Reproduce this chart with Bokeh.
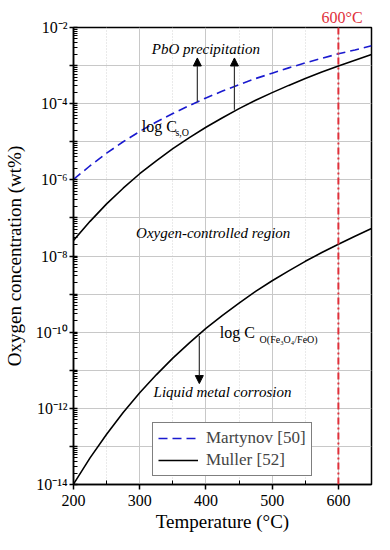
from bokeh.plotting import figure
from bokeh.models import (FixedTicker, Arrow, NormalHead, Label, Legend, LegendItem, Span, Title)
from bokeh.embed import file_html
from bokeh.resources import INLINE

# ---- data ----
temps = [200, 225, 250, 275, 300, 325, 350, 375, 400, 425, 450, 475, 500, 525, 550, 575, 600, 625, 650]
martynov_log = [-5.99, -5.63, -5.30, -5.00, -4.73, -4.48, -4.26, -4.05, -3.85, -3.67, -3.50,
                -3.34, -3.20, -3.06, -2.93, -2.81, -2.69, -2.59, -2.48]
muller_sat_log = [-7.59, -7.09, -6.63, -6.22, -5.84, -5.50, -5.18, -4.89, -4.62, -4.37, -4.13,
                  -3.91, -3.71, -3.52, -3.34, -3.17, -3.01, -2.86, -2.71]
muller_fe_log = [-13.99, -13.30, -12.68, -12.11, -11.59, -11.12, -10.68, -10.28, -9.90, -9.56, -9.24,
                 -8.93, -8.65, -8.39, -8.14, -7.91, -7.69, -7.48, -7.28]

x_ticks = [200, 300, 400, 500, 600]
x_minor = [250, 350, 450, 550, 650]
y_exps = [-14, -13, -12, -11, -10, -9, -8, -7, -6, -5, -4, -3, -2]
y_labels = {-14: "10⁻¹⁴", -12: "10⁻¹²", -10: "10⁻¹⁰", -8: "10⁻⁸", -6: "10⁻⁶", -4: "10⁻⁴", -2: "10⁻²"}

arrow_x = [387, 443, 390]
arrow_start = [-3.95, -4.16, -10.1]
arrow_end = [-2.8, -2.8, -11.35]

FONT = "Liberation Serif"

martynov = [10 ** v for v in martynov_log]
muller_sat = [10 ** v for v in muller_sat_log]
muller_fe = [10 ** v for v in muller_fe_log]

p = figure(width=374, height=534, x_range=(200, 650), y_range=(1e-14, 1e-2),
           y_axis_type="log", output_backend="svg", toolbar_location=None,
           min_border_left=71, min_border_right=3, min_border_top=27, min_border_bottom=50)

p.background_fill_color = "white"
p.border_fill_color = "white"
p.outline_line_color = "black"
p.outline_line_width = 1.5
p.outline_line_alpha = 1.0

# "600°C" marker label above the frame
p.add_layout(Title(text="600°C", text_color="#e0303a", text_font=FONT,
                   text_font_size="16px", text_font_style="normal", align="left",
                   offset=248, standoff=4), "above")

# grids
p.xgrid.ticker = FixedTicker(ticks=x_ticks, minor_ticks=x_minor)
p.xgrid.grid_line_color = "#c8c8c8"
p.xgrid.grid_line_width = 1
p.xgrid.minor_grid_line_color = "#d4d4d4"
p.xgrid.minor_grid_line_dash = "1 2"
yt = [10.0 ** e for e in y_exps]
yminor = []
for e in range(-14, -2):
    for m in range(2, 10):
        yminor.append(m * 10.0 ** e)
p.ygrid.ticker = FixedTicker(ticks=yt)
p.ygrid.grid_line_color = "#c8c8c8"
p.ygrid.grid_line_width = 1

# axes
p.xaxis.ticker = FixedTicker(ticks=x_ticks, minor_ticks=x_minor)
p.yaxis.ticker = FixedTicker(ticks=yt, minor_ticks=yminor)
p.yaxis.major_label_overrides = {10.0 ** e: y_labels.get(e, "") for e in y_exps}
for ax in (p.xaxis, p.yaxis):
    ax.axis_line_color = "black"
    ax.axis_line_width = 1.5
    ax.major_tick_line_color = "black"
    ax.minor_tick_line_color = "black"
    ax.major_tick_line_width = 1.5
    ax.major_label_text_font = FONT
    ax.major_label_text_font_size = "16px"
    ax.major_label_text_color = "black"
    ax.axis_label_text_font = FONT
    ax.axis_label_text_font_style = "normal"
    ax.axis_label_text_font_size = "19px"
    ax.axis_label_text_color = "black"
p.xaxis.major_tick_in = 0
p.xaxis.major_tick_out = 5
p.xaxis.minor_tick_in = 4
p.xaxis.minor_tick_out = 0
p.yaxis.major_tick_in = 4
p.yaxis.major_tick_out = 4
p.yaxis.minor_tick_in = 4
p.yaxis.minor_tick_out = 0
p.xaxis.major_label_standoff = 5
p.yaxis.major_label_standoff = 2
p.xaxis.axis_label_standoff = 2
p.yaxis.axis_label_standoff = 8
p.xaxis.axis_label = "Temperature (°C)"
p.yaxis.axis_label = "Oxygen concentration (wt%)"

# curves
r1 = p.line(temps, martynov, line_color="#1a1acf", line_width=1.6, line_dash="9 5")
r2 = p.line(temps, muller_sat, line_color="black", line_width=1.6)
p.line(temps, muller_fe, line_color="black", line_width=1.6)

# 600 C line
p.add_layout(Span(location=600, dimension="height", line_color="#e0303a",
                  line_width=2, line_dash="7 3 2 3"))

# arrows
for ax_, s, e in zip(arrow_x, arrow_start, arrow_end):
    p.add_layout(Arrow(end=NormalHead(size=8, fill_color="black", line_color="black", line_width=1),
                       x_start=ax_, y_start=10 ** s, x_end=ax_, y_end=10 ** e,
                       line_color="#333333", line_width=1.2))

# annotations
def lab(x, y, t, size="15px", style="italic", align="center"):
    p.add_layout(Label(x=x, y=y, text=t, text_font=FONT, text_font_size=size,
                       text_font_style=style, text_align=align, text_baseline="middle",
                       text_color="black"))

lab(400, 10 ** -2.57, "PbO precipitation")
lab(411, 10 ** -7.40, "Oxygen-controlled region")
lab(425, 10 ** -11.58, "Liquid metal corrosion")
lab(303, 10 ** -4.6, "log C", size="16px", style="normal", align="left")
lab(354, 10 ** -4.76, "s,O", size="10px", style="normal", align="left")
lab(421, 10 ** -10.0, "log C", size="16px", style="normal", align="left")
lab(481, 10 ** -10.2, "O(Fe₃O₄/FeO)", size="10px", style="normal", align="left")

legend = Legend(items=[LegendItem(label="Martynov [50]", renderers=[r1]),
                       LegendItem(label="Muller [52]", renderers=[r2])],
                location=(79, 8), label_text_font=FONT, label_text_font_size="17px",
                glyph_width=40, glyph_height=18, label_height=18, spacing=2,
                padding=5, margin=0, border_line_color="black", border_line_width=1,
                background_fill_alpha=1.0, label_standoff=8)
p.add_layout(legend)

open("out.html", "w").write(file_html(p, INLINE))
